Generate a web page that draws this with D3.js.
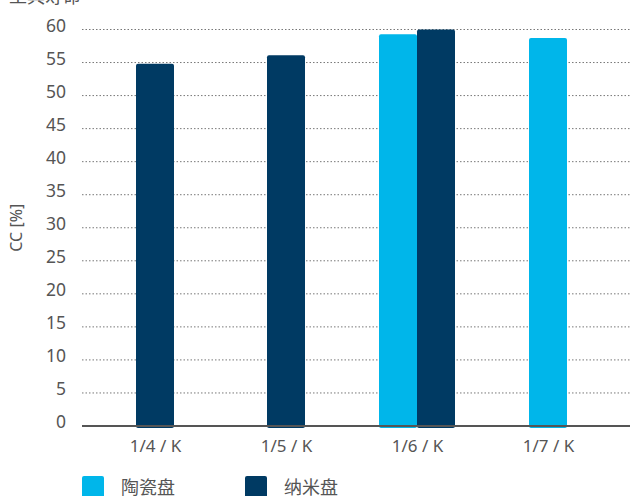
<!DOCTYPE html>
<html>
<head>
<meta charset="utf-8">
<script src="https://cdn.jsdelivr.net/npm/d3@7"></script>
<style>
  body { margin: 0; background: #fff; }
  svg text { font-family: "Noto Sans", "Noto Sans CJK SC", sans-serif; fill: #555; }
</style>
</head>
<body>
<svg id="chart" width="630" height="496"></svg>
<script>
// data
const categories = ["1/4 / K", "1/5 / K", "1/6 / K", "1/7 / K"];
const seriesNames = ["陶瓷盘", "纳米盘"];
const ceramic = [null, null, 59.3, 58.7];
const nano = [54.8, 56.1, 60.0, null];
const yTicks = [0, 5, 10, 15, 20, 25, 30, 35, 40, 45, 50, 55, 60];

const colors = ["#00b6ea", "#003a63"];

function draw() {
  const width = 630;
  const height = 496;
  const margin = { left: 82, right: 0, top: 29.5, bottom: 70 };
  const barWidth = 38;

  const svg = d3.select("#chart");

  const x = d3.scalePoint()
    .domain(categories)
    .range([155, 548]);

  const y = d3.scaleLinear()
    .domain([0, 60])
    .range([height - margin.bottom, margin.top]);

  // cut-off title at the very top
  svg.append("text")
    .attr("x", 9)
    .attr("y", 3)
    .attr("font-size", 18)
    .text("工具寿命");

  // dotted grid lines
  svg.append("g")
    .selectAll("line")
    .data(yTicks.filter(d => d > 0))
    .join("line")
      .attr("x1", margin.left)
      .attr("x2", width)
      .attr("y1", d => y(d))
      .attr("y2", d => y(d))
      .attr("stroke", "#777")
      .attr("stroke-width", 1)
      .attr("stroke-dasharray", "1.5,2");

  // y tick labels, sitting a little above their lines
  const yAxis = svg.append("g")
    .attr("transform", `translate(${margin.left},0)`)
    .call(d3.axisLeft(y).tickValues(yTicks).tickSize(0).tickPadding(16));
  yAxis.select(".domain").remove();
  yAxis.selectAll("text")
    .attr("y", -4)
    .attr("font-size", 17.5)
    .attr("font-family", null)
    .attr("fill", "#555");

  // bars
  const rows = categories.map((c, i) => {
    const vals = [ceramic[i], nano[i]]
      .map((v, s) => ({ cat: c, s: s, v: v }))
      .filter(d => d.v !== null);
    return vals.map((d, k) => Object.assign(d, { k: k, n: vals.length }));
  }).flat();

  svg.append("g")
    .selectAll("rect")
    .data(rows)
    .join("rect")
      .attr("x", d => x(d.cat) - d.n * barWidth / 2 + d.k * barWidth)
      .attr("y", d => y(d.v))
      .attr("width", barWidth)
      .attr("height", d => y(0) - y(d.v) + 2)
      .attr("rx", 2)
      .attr("fill", d => colors[d.s]);

  // x axis
  const xAxis = svg.append("g")
    .attr("transform", `translate(0,${y(0)})`)
    .call(d3.axisBottom(x).tickSize(0).tickPadding(14));
  xAxis.select(".domain").remove();
  xAxis.append("line")
    .attr("x1", margin.left)
    .attr("x2", width)
    .attr("stroke", "#555")
    .attr("stroke-width", 2);
  xAxis.selectAll("text")
    .attr("font-size", 17)
    .attr("font-family", null)
    .attr("fill", "#555");

  // y label
  svg.append("text")
    .attr("transform", `translate(22,${(y(0) + y(60)) / 2}) rotate(-90)`)
    .attr("text-anchor", "middle")
    .attr("font-size", 16)
    .text("CC [%]");

  // legend
  const legend = svg.append("g")
    .selectAll("g")
    .data(seriesNames)
    .join("g")
      .attr("transform", (d, i) => `translate(${82 + i * 163},476)`);
  legend.append("rect")
    .attr("width", 22)
    .attr("height", 22)
    .attr("rx", 2)
    .attr("fill", (d, i) => colors[i]);
  legend.append("text")
    .attr("x", 39)
    .attr("y", 18)
    .attr("font-size", 18)
    .text(d => d);
}

window.onload = draw;
</script>
</body>
</html>
